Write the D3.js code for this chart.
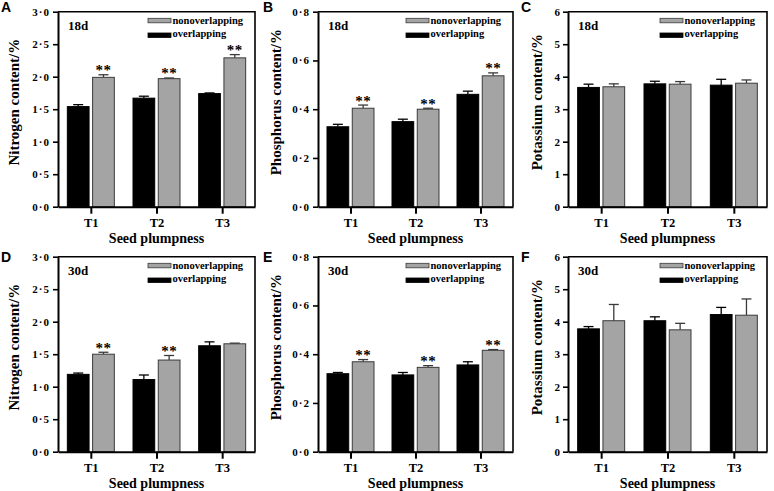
<!DOCTYPE html>
<html>
<head>
<meta charset="utf-8">
<script src="https://cdn.jsdelivr.net/npm/d3@7"></script>
<style>
  body { margin: 0; background: #fff; }
  text { font-family: "Liberation Serif", "Times New Roman", serif; font-weight: bold; }
  .letter { font-family: "Liberation Sans", Arial, sans-serif; font-size: 14px; }
</style>
</head>
<body>
<svg id="fig"></svg>
<script>
// figure size
const width = 774;
const height = 491;

// data
const categories = ["T1", "T2", "T3"];
const series = ["overlapping", "nonoverlapping"];
const panelLetters = ["A", "B", "C", "D", "E", "F"];
const panelDays = ["18d", "18d", "18d", "30d", "30d", "30d"];
const yTitles = ["Nitrogen content/%", "Phosphorus content/%", "Potassium content/%"];
const yMax = [3, 0.8, 6];
const yStep = [0.5, 0.2, 1];

// [overlapping, nonoverlapping] per category
const nitrogen18 = [[1.54, 1.99], [1.67, 1.97], [1.74, 2.29]];
const nitrogen18Err = [[0.03, 0.04], [0.03, 0.01], [0.01, 0.05]];
const phosphorus18 = [[0.328, 0.404], [0.349, 0.400], [0.461, 0.537]];
const phosphorus18Err = [[0.010, 0.013], [0.010, 0.004], [0.013, 0.012]];
const potassium18 = [[3.67, 3.69], [3.78, 3.77], [3.74, 3.80]];
const potassium18Err = [[0.10, 0.09], [0.08, 0.08], [0.18, 0.10]];

const nitrogen30 = [[1.19, 1.50], [1.11, 1.41], [1.63, 1.66]];
const nitrogen30Err = [[0.02, 0.03], [0.07, 0.07], [0.06, 0.01]];
const phosphorus30 = [[0.320, 0.369], [0.315, 0.346], [0.356, 0.416]];
const phosphorus30Err = [[0.005, 0.009], [0.010, 0.007], [0.013, 0.003]];
const potassium30 = [[3.78, 4.03], [4.03, 3.75], [4.22, 4.20]];
const potassium30Err = [[0.07, 0.50], [0.12, 0.20], [0.22, 0.50]];

// significance marks on the nonoverlapping bar
const stars18 = [[true, true, true], [true, true, true], [false, false, false]];
const stars30 = [[true, true, false], [true, true, true], [false, false, false]];

const values = [nitrogen18, phosphorus18, potassium18, nitrogen30, phosphorus30, potassium30];
const errors = [nitrogen18Err, phosphorus18Err, potassium18Err, nitrogen30Err, phosphorus30Err, potassium30Err];
const stars = stars18.concat(stars30);

// layout
const colLeft = [58, 318, 568];
const colWidth = [197, 195, 199];
const titleOffset = [39, 37, 26];
const letterX = [1, 263, 521];
const rowTop = [11.7, 256.7];
const plotHeight = 195;

const fills = { overlapping: "#000000", nonoverlapping: "#a4a4a4" };
const strokes = { overlapping: "#000000", nonoverlapping: "#3a3a3a" };

const svg = d3.select("#fig").attr("width", width).attr("height", height);

for (let p = 0; p < 6; p++) {
  drawPanel(p);
}

function translate(x, y) {
  return "translate(" + String(x) + "," + String(y) + ")";
}

function drawPanel(p) {
  let col = p % 3;
  let row = Math.floor(p / 3);
  let w = colWidth[col];
  let left = colLeft[col];
  let top = rowTop[row];

  let g = svg.append("g").attr("transform", translate(left, top));

  let x = d3.scalePoint().domain(categories).range([0, w]).padding(0.5);
  let xSub = d3.scaleBand().domain(series).range([-23.5, 23.5]).paddingInner(0.14);
  let y = d3.scaleLinear().domain([0, yMax[col]]).range([plotHeight, 0]);

  let tickVals = d3.range(0, yMax[col] + 1e-9, yStep[col]);
  let fmt = col == 2 ? d3.format("d") : (d => d3.format(".1f")(d).replace(".", "·"));

  // frame on top and right
  g.append("path")
    .attr("d", "M0,0H" + w + "V" + plotHeight)
    .attr("fill", "none")
    .attr("stroke", "#000")
    .attr("stroke-width", 1.6);

  // bars
  let data = [];
  categories.forEach((c, i) => {
    series.forEach((s, j) => {
      data.push({ cat: c, ser: s, v: values[p][i][j], e: errors[p][i][j], star: j == 1 && stars[p][i] });
    });
  });

  let bars = g.append("g").selectAll("g").data(data).enter().append("g")
    .attr("transform", d => translate(x(d.cat) + xSub(d.ser), 0));

  bars.append("line")
    .attr("x1", xSub.bandwidth() / 2).attr("x2", xSub.bandwidth() / 2)
    .attr("y1", d => y(d.v)).attr("y2", d => y(d.v + d.e))
    .attr("stroke", d => strokes[d.ser]).attr("stroke-width", 1.3);
  bars.append("line")
    .attr("x1", xSub.bandwidth() / 2 - 5).attr("x2", xSub.bandwidth() / 2 + 5)
    .attr("y1", d => y(d.v + d.e)).attr("y2", d => y(d.v + d.e))
    .attr("stroke", d => strokes[d.ser]).attr("stroke-width", 1.3);

  bars.append("rect")
    .attr("x", 0)
    .attr("width", xSub.bandwidth())
    .attr("y", d => y(d.v))
    .attr("height", d => plotHeight - y(d.v))
    .attr("fill", d => fills[d.ser])
    .attr("stroke", d => strokes[d.ser])
    .attr("stroke-width", 1);

  bars.filter(d => d.star).append("text")
    .attr("x", xSub.bandwidth() / 2)
    .attr("y", d => y(d.v + d.e) + 0.5)
    .attr("text-anchor", "middle")
    .attr("font-size", 15)
    .attr("letter-spacing", 0.5)
    .attr("fill", "#000")
    .text("**");

  // axes
  let yAxis = d3.axisLeft(y).tickValues(tickVals).tickFormat(fmt).tickSize(5).tickSizeOuter(0).tickPadding(3);
  let yg = g.append("g").call(yAxis);
  yg.select(".domain").attr("stroke-width", 2);
  yg.selectAll(".tick line").attr("stroke-width", 1.6);
  yg.selectAll(".tick text").attr("font-size", 11).attr("fill", "#000").attr("font-family", null);
  if (col != 2) yg.selectAll(".tick text").attr("letter-spacing", 1);

  let xAxis = d3.axisBottom(x).tickSize(7).tickSizeOuter(0).tickPadding(4);
  let xg = g.append("g").attr("transform", translate(0, plotHeight)).call(xAxis);
  xg.select(".domain").attr("stroke-width", 2);
  xg.selectAll(".tick line").attr("stroke-width", 2);
  xg.selectAll(".tick text").attr("font-size", 12.5).attr("fill", "#000").attr("font-family", null);

  // legend
  let legend = g.append("g").attr("transform", translate(w - 107, 0));
  [["nonoverlapping", 6.6, 12.6], ["overlapping", 21.3, 25]].forEach(l => {
    legend.append("rect")
      .attr("x", 0).attr("y", l[1])
      .attr("width", 23).attr("height", 4.5)
      .attr("fill", fills[l[0]])
      .attr("stroke", strokes[l[0]])
      .attr("stroke-width", 0.8);
    legend.append("text")
      .attr("x", 24.5).attr("y", l[2])
      .attr("font-size", 10.5)
      .text(l[0]);
  });

  // day label
  g.append("text")
    .attr("x", 10).attr("y", 18.5)
    .attr("font-size", 13)
    .text(panelDays[p]);

  // titles
  g.append("text")
    .attr("x", w / 2).attr("y", plotHeight + 36)
    .attr("text-anchor", "middle")
    .attr("font-size", 14)
    .text("Seed plumpness");

  g.append("text")
    .attr("transform", translate(-titleOffset[col], plotHeight / 2 - 7) + " rotate(-90)")
    .attr("text-anchor", "middle")
    .attr("font-size", 15)
    .text(yTitles[col]);

  // panel letter
  svg.append("text")
    .attr("class", "letter")
    .attr("x", letterX[col])
    .attr("y", row == 0 ? 12 : 262)
    .text(panelLetters[p]);
}
</script>
</body>
</html>
